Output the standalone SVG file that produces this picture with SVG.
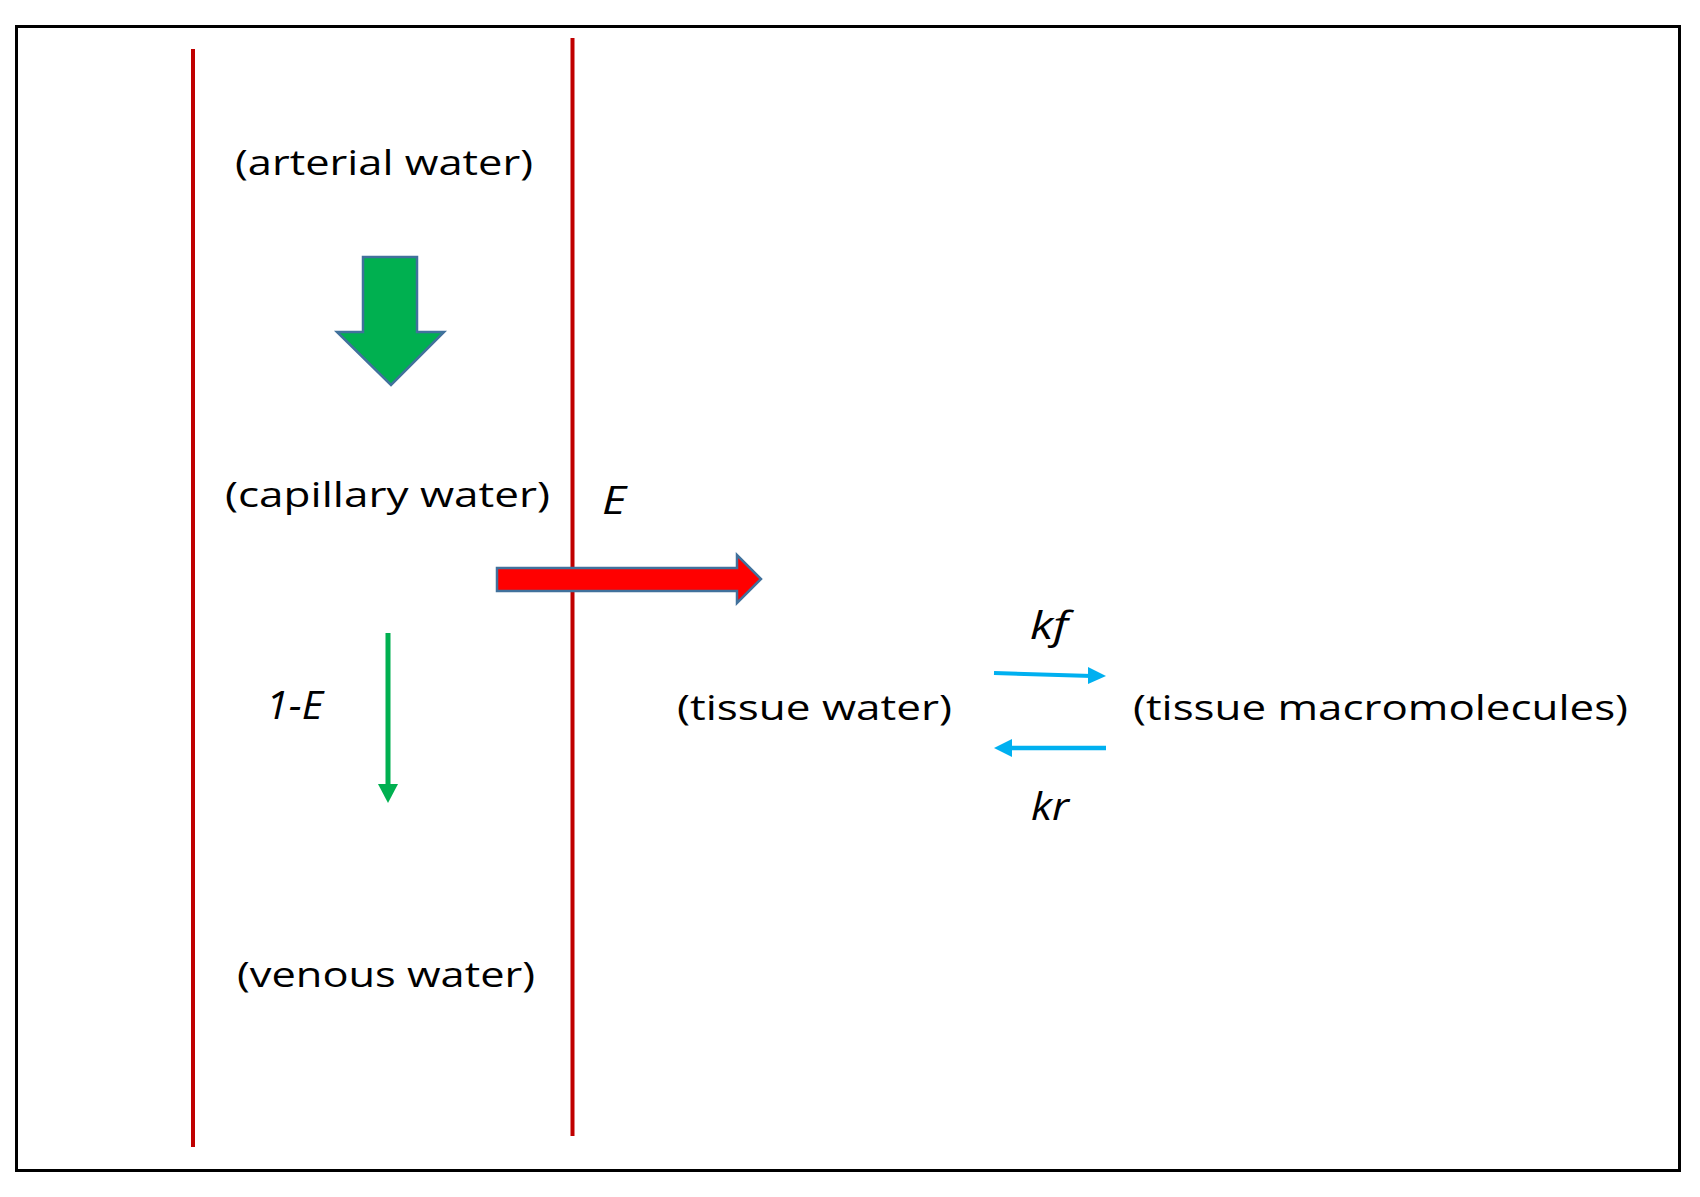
<svg xmlns="http://www.w3.org/2000/svg" width="1700" height="1197" viewBox="0 0 1700 1197">
<style>
.lbl{font-family:"Open Sans","Liberation Sans",sans-serif;font-size:35px;fill:#000}
.it{font-family:"Open Sans","Liberation Sans",sans-serif;font-size:38px;font-style:italic;fill:#000}
.wall{stroke:#C00000;stroke-width:4;fill:none}
.blk{stroke:#41719C;stroke-width:2.5;stroke-linejoin:miter}
</style>
<rect width="1700" height="1197" fill="#fff"/>
<rect x="16.5" y="26.5" width="1663" height="1144" fill="none" stroke="#000" stroke-width="3"/>
<g id="walls">
<line class="wall" x1="193" y1="49" x2="193" y2="1147"/>
<line class="wall" x1="572.5" y1="38" x2="572.5" y2="1136"/>
</g>
<g id="arterial"><text class="lbl" x="384" y="175" text-anchor="middle" textLength="298" lengthAdjust="spacingAndGlyphs">(arterial water)</text></g>
<g id="capillary"><text class="lbl" x="387.5" y="507" text-anchor="middle" textLength="325" lengthAdjust="spacingAndGlyphs">(capillary water)</text></g>
<g id="venous"><text class="lbl" x="386" y="987" text-anchor="middle" textLength="298" lengthAdjust="spacingAndGlyphs">(venous water)</text></g>
<g id="tissue"><text class="lbl" x="814.5" y="720" text-anchor="middle" textLength="275" lengthAdjust="spacingAndGlyphs">(tissue water)</text></g>
<g id="macro"><text class="lbl" x="1380.5" y="720" text-anchor="middle" textLength="495" lengthAdjust="spacingAndGlyphs">(tissue macromolecules)</text></g>
<g id="connectors">
<polygon class="blk" fill="#00B050" points="363,257 417,257 417,332 444,332 391,385 337,332 363,332"/>
<polygon class="blk" fill="#FF0000" points="497,568 737,568 737,555 761,579 737,603 737,591 497,591"/>
<line x1="388" y1="633" x2="388" y2="786" stroke="#00B050" stroke-width="5"/>
<polygon points="378,784 398,784 388,803" fill="#00B050"/>
<line x1="994" y1="673" x2="1092" y2="676" stroke="#00B0F0" stroke-width="4"/>
<polygon points="1088,667 1106,676 1088,684" fill="#00B0F0"/>
<line x1="1106" y1="748" x2="1010" y2="748" stroke="#00B0F0" stroke-width="4.5"/>
<polygon points="1012,739 994,748 1012,757" fill="#00B0F0"/>
</g>
<g id="labels">
<text class="it" x="602" y="514" textLength="24" lengthAdjust="spacingAndGlyphs">E</text>
<text class="it" x="266" y="719" textLength="57" lengthAdjust="spacingAndGlyphs">1-E</text>
<text class="it" x="1030" y="639" textLength="38" lengthAdjust="spacingAndGlyphs">kf</text>
<text class="it" x="1031" y="820" textLength="38" lengthAdjust="spacingAndGlyphs">kr</text>
</g>
</svg>
